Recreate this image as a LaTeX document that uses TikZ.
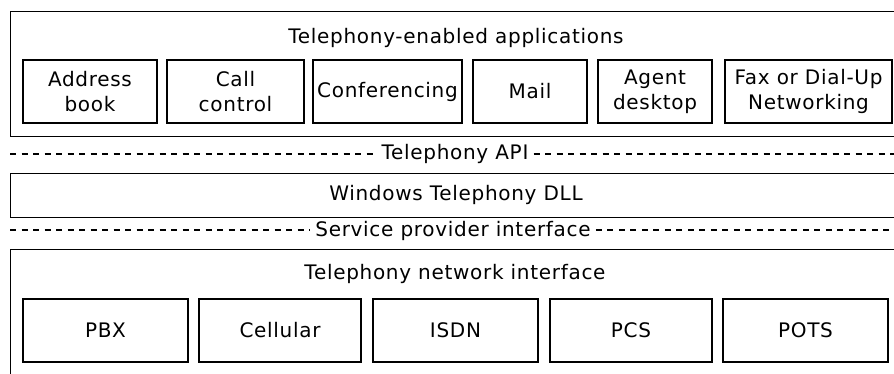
\documentclass[tikz,border=0pt]{standalone}
\usepackage{fontspec}
\setmainfont{DejaVu Sans}[LetterSpace=3.5]

\begin{document}
\begin{tikzpicture}[x=1pt,y=-1pt,font=\fontsize{20}{25}\selectfont,
    layer/.style={draw,line width=1.3pt,inner sep=0pt,anchor=north west,minimum width=890pt},
    module/.style={draw,line width=1.2pt,inner sep=0pt,align=center,minimum height=63pt},
    ifline/.style={line width=1.3pt,dash pattern=on 6pt off 5.5pt},
    iflabel/.style={fill=white,inner xsep=5pt,inner ysep=1pt,anchor=base}]
  \useasboundingbox (0,0) rectangle (894,373);
  \clip (0,0) rectangle (894,373);
  % applications layer
  \node[layer,minimum height=125pt] (apps) at (10,11) {};
  \node[anchor=base] (appstitle) at (456,43) {Telephony-enabled applications};
  \node[module,minimum width=134pt] (addr) at (90,91.5) {Address\\book};
  \node[module,minimum width=137pt] (callctl) at (235.5,91.5) {Call\\control};
  \node[module,minimum width=149pt] (conf) at (387.5,91.5) {Conferencing};
  \node[module,minimum width=114pt] (mail) at (530,91.5) {Mail};
  \node[module,minimum width=114pt] (agent) at (655,91.5) {Agent\\desktop};
  \node[module,minimum width=167pt] (fax) at (808.5,91.5) {Fax or Dial-Up\\Networking};
  % Telephony API
  \coordinate (apiL) at (10,154);
  \coordinate (apiR) at (900,154);
  \node[iflabel] (api) at (455,159) {Telephony API};
  \draw[ifline] (apiL) -- (apiL -| api.west);
  \draw[ifline] (apiR -| api.east) -- (apiR);
  % DLL layer
  \node[layer,minimum height=44pt] (dll) at (10,173) {};
  \node[anchor=base] (dlltitle) at (456,200) {Windows Telephony DLL};
  % service provider interface
  \coordinate (spiL) at (10,230);
  \coordinate (spiR) at (900,230);
  \node[iflabel] (spi) at (453,236) {Service provider interface};
  \draw[ifline] (spiL) -- (spiL -| spi.west);
  \draw[ifline] (spiR -| spi.east) -- (spiR);
  % network layer
  \node[layer,minimum height=140pt] (net) at (10,249) {};
  \node[anchor=base] (nettitle) at (455,279) {Telephony network interface};
  \node[module,minimum width=165pt] (pbx) at (105.5,330.5) {PBX};
  \node[module,minimum width=162pt] (cell) at (280,330.5) {Cellular};
  \node[module,minimum width=165pt] (isdn) at (455.5,330.5) {ISDN};
  \node[module,minimum width=162pt] (pcs) at (631,330.5) {PCS};
  \node[module,minimum width=165pt] (pots) at (805.5,330.5) {POTS};
\end{tikzpicture}
\end{document}
